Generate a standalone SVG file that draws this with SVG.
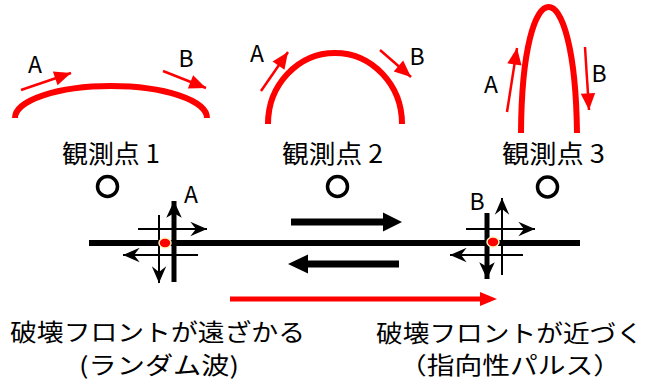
<svg xmlns="http://www.w3.org/2000/svg" width="657" height="381" viewBox="0 0 657 381">
<style>
text{font-family:"Noto Sans CJK JP","Noto Sans",sans-serif;fill:#000}
.lab{font-size:23px;text-anchor:middle}
.obs{font-size:25px}
.big{font-size:23.5px}
.arc{fill:none;stroke:#ff0000;stroke-width:6}
.ra{stroke:#ff0000;stroke-width:2.5;fill:none;marker-end:url(#rh)}
.ta{stroke:#000;stroke-width:2;fill:none;marker-end:url(#th)}
.ka{stroke:#000;stroke-width:5;fill:none;marker-end:url(#kh)}
.circ{fill:none;stroke:#000;stroke-width:3.5}
.dot{fill:#ff0000;stroke:#fff2b8;stroke-width:1.5}
</style>
<defs>
<marker id="rh" markerUnits="userSpaceOnUse" markerWidth="20" markerHeight="20" viewBox="-16 -8 18 16" refX="0" refY="0" orient="auto"><path d="M0,0 L-15,-6.5 L-15,6.5 Z" fill="#ff0000"/></marker>
<marker id="th" markerUnits="userSpaceOnUse" markerWidth="20" markerHeight="20" viewBox="-16 -8 18 16" refX="0" refY="0" orient="auto"><path d="M0,0 L-15,-6.5 L-10,0 L-15,6.5 Z" fill="#000"/></marker>
<marker id="kh" markerUnits="userSpaceOnUse" markerWidth="20" markerHeight="20" viewBox="-16 -8 18 16" refX="0" refY="0" orient="auto"><path d="M0,0 L-15,-7 L-11,0 L-15,7 Z" fill="#000"/></marker>
</defs>

<g id="observation1">
<path class="arc" d="M15,118 A96 32 0 0 1 207,118"/>
<line class="ra" x1="21" y1="90" x2="71" y2="73"/>
<line class="ra" x1="163" y1="71" x2="206" y2="88"/>
<text class="lab" x="35" y="73">A</text>
<text class="lab" x="186" y="67">B</text>
<text class="obs" x="62" y="163" textLength="98" lengthAdjust="spacingAndGlyphs">観測点 1</text>
<circle class="circ" cx="107.5" cy="186.5" r="10"/>
</g>

<g id="observation2">
<path class="arc" d="M268,124 A67 71 0 0 1 402,124"/>
<line class="ra" x1="261" y1="91" x2="288" y2="52"/>
<line class="ra" x1="380" y1="50" x2="411" y2="77"/>
<text class="lab" x="257" y="62">A</text>
<text class="lab" x="417" y="65">B</text>
<text class="obs" x="282" y="163" textLength="101" lengthAdjust="spacingAndGlyphs">観測点 2</text>
<circle class="circ" cx="337.5" cy="186.5" r="10"/>
</g>

<g id="observation3">
<path class="arc" d="M521,133 C522,-35 575,-35 577,133"/>
<line class="ra" x1="507" y1="112" x2="517" y2="48"/>
<line class="ra" x1="585" y1="47" x2="589" y2="110"/>
<text class="lab" x="491" y="93">A</text>
<text class="lab" x="599" y="82">B</text>
<text class="obs" x="502" y="163" textLength="103" lengthAdjust="spacingAndGlyphs">観測点 3</text>
<circle class="circ" cx="547.5" cy="187" r="10"/>
</g>

<g id="fault">
<line x1="89" y1="243" x2="580" y2="243" stroke="#000" stroke-width="6"/>
</g>

<g id="connectors">
<g id="crossA">
<line class="ta" x1="138" y1="229" x2="207" y2="229"/>
<line class="ta" x1="198" y1="255" x2="123" y2="255"/>
<line class="ta" x1="159" y1="215" x2="159" y2="283"/>
<line class="ka" x1="174" y1="282" x2="174" y2="201"/>
</g>
<g id="crossB">
<line class="ta" x1="466" y1="229" x2="535" y2="229"/>
<line class="ta" x1="523" y1="255" x2="450" y2="255"/>
<line class="ta" x1="502" y1="275" x2="502" y2="198"/>
<line class="ka" x1="487" y1="213" x2="487" y2="279"/>
</g>
<polygon points="291,218.5 383,218.5 383,212.5 402,222 383,231.5 383,225.5 291,225.5" fill="#000"/>
<polygon points="399,260.5 308,260.5 308,254.5 288,264 308,273.5 308,267.5 399,267.5" fill="#000"/>
<line x1="230" y1="299" x2="482" y2="299" stroke="#ff0000" stroke-width="5"/>
<polygon points="480,292 497,299 480,306" fill="#ff0000"/>
</g>

<g id="hypocenters">
<ellipse class="dot" cx="165" cy="243" rx="6" ry="5"/>
<ellipse class="dot" cx="493" cy="242" rx="6" ry="5"/>
<text class="lab" x="191" y="203">A</text>
<text class="lab" x="477" y="210">B</text>
</g>

<g id="caption-left">
<text class="big" x="10" y="341" textLength="295" lengthAdjust="spacingAndGlyphs">破壊フロントが遠ざかる</text>
<text class="big" x="79" y="373.5" textLength="160" lengthAdjust="spacingAndGlyphs">(ランダム波)</text>
</g>
<g id="caption-right">
<text class="big" x="376" y="342" textLength="267" lengthAdjust="spacingAndGlyphs">破壊フロントが近づく</text>
<text class="big" x="399" y="373.5" textLength="222" lengthAdjust="spacingAndGlyphs">（指向性パルス）</text>
</g>
</svg>
